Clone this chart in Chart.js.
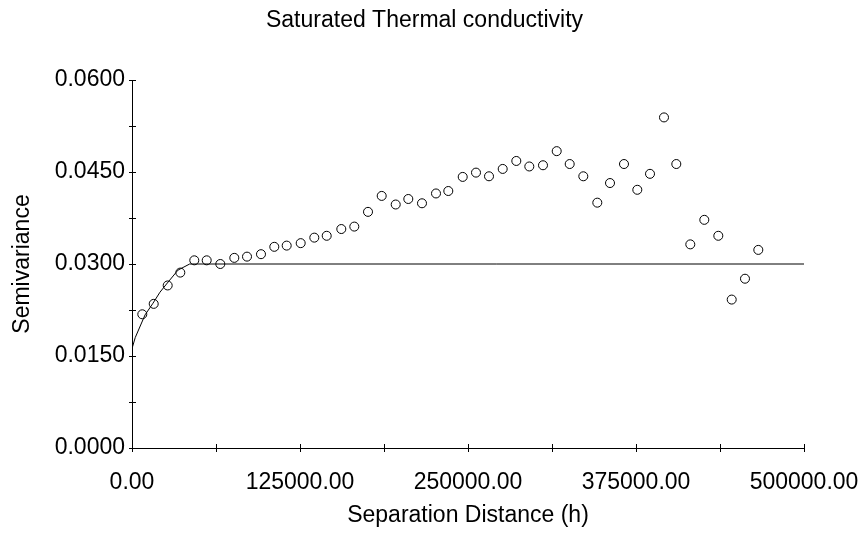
<!DOCTYPE html>
<html>
<head>
<meta charset="utf-8">
<script src="https://cdn.jsdelivr.net/npm/chart.js@4.4.0/dist/chart.umd.min.js"></script>
<style>
  html, body { margin: 0; padding: 0; background: #fff; }
  #wrap { width: 868px; height: 533px; }
</style>
</head>
<body>
<div id="wrap"><canvas id="myChart"></canvas></div>
<script>
// experimental semivariogram (lag distance vs semivariance)
const lagDistance = [7660, 16150, 26560, 35940, 46350, 55580, 65700, 76120, 85570, 95980,
  105880, 115100, 125520, 135640, 144870, 155730, 165400, 175600, 185790, 196210,
  205580, 215770, 226190, 235340, 246060, 255950, 265630, 275820, 285940, 295610,
  305800, 316000, 325670, 335790, 346210, 355660, 366070, 375970, 385420, 395830,
  404990, 415400, 425820, 436240, 446210, 456100, 466000];
const semivariance = [0.0218, 0.0235, 0.0265, 0.0286, 0.0306, 0.0306, 0.0300, 0.0310, 0.0312, 0.0316,
  0.0328, 0.0330, 0.0334, 0.0343, 0.0346, 0.0357, 0.0361, 0.0385, 0.0411, 0.0397,
  0.0406, 0.0399, 0.0415, 0.0419, 0.0442, 0.0449, 0.0443, 0.0455, 0.0468, 0.0459,
  0.0461, 0.0484, 0.0463, 0.0443, 0.0400, 0.0432, 0.0463, 0.0421, 0.0447, 0.0539,
  0.0463, 0.0332, 0.0372, 0.0346, 0.0242, 0.0276, 0.0323];

// fitted model
const modelDistance = [0, 2400, 9700, 15600, 20800, 26300, 34200, 42900, 500000];
const modelGamma = [0.0162, 0.0180, 0.0217, 0.0236, 0.0254, 0.0269, 0.0290, 0.0300, 0.0300];

const FONT = 'Liberation Sans, Arial, sans-serif';

const toXY = (xs, ys) => xs.map((x, i) => ({ x: x, y: ys[i] }));

// little ticks that cross the axis line
const crossTicks = {
  id: 'crossTicks',
  afterDraw(chart) {
    const ctx = chart.ctx;
    const xs = chart.scales.x, ys = chart.scales.y;
    const area = chart.chartArea;
    ctx.save();
    ctx.strokeStyle = '#000';
    ctx.lineWidth = 1;
    ctx.beginPath();
    xs.ticks.forEach((t, i) => {
      const px = Math.round(xs.getPixelForTick(i)) + 0.5;
      ctx.moveTo(px, area.bottom - 4);
      ctx.lineTo(px, area.bottom + 4);
    });
    ys.ticks.forEach((t, i) => {
      const py = Math.round(ys.getPixelForTick(i)) + 0.5;
      ctx.moveTo(area.left - 3, py);
      ctx.lineTo(area.left + 4, py);
    });
    ctx.stroke();
    ctx.restore();
  }
};

const config = {
  type: 'scatter',
  data: {
    datasets: [
      {
        label: 'Model',
        data: toXY(modelDistance, modelGamma),
        showLine: true,
        borderColor: '#000',
        borderWidth: 1,
        pointRadius: 0,
        tension: 0,
        fill: false,
      },
      {
        label: 'Semivariance',
        data: toXY(lagDistance, semivariance),
        showLine: false,
        pointStyle: 'circle',
        pointRadius: 4.5,
        pointBorderWidth: 1,
        pointBorderColor: '#000',
        pointBackgroundColor: 'rgba(0,0,0,0)',
      }
    ]
  },
  options: {
    responsive: true,
    maintainAspectRatio: false,
    animation: false,
    layout: { padding: { left: 45, right: 64, top: 0, bottom: 0 } },
    plugins: {
      legend: { display: false },
      tooltip: { enabled: false },
      title: {
        display: true,
        text: 'Saturated Thermal conductivity',
        color: '#000',
        font: { family: FONT, size: 23, weight: 'normal' },
        padding: { top: 7, bottom: 45.4 }
      }
    },
    scales: {
      x: {
        type: 'linear',
        min: 0,
        max: 500000,
        grid: { display: false, drawTicks: false },
        border: { display: true, color: '#000', width: 1 },
        ticks: {
          stepSize: 62500,
          autoSkip: false,
          maxRotation: 0,
          color: '#000',
          padding: 21,
          font: { family: FONT, size: 23 },
          callback: (v) => (Math.round(v / 62500) % 2 === 0 ? v.toFixed(2) : '')
        },
        title: {
          display: true,
          text: 'Separation Distance (h)',
          color: '#000',
          font: { family: FONT, size: 23 },
          padding: { top: 0, bottom: 4 }
        },
        afterFit: (s) => { s.height = 85; s.paddingRight = 0; s.paddingLeft = 0; }
      },
      y: {
        type: 'linear',
        min: 0,
        max: 0.06,
        grid: { display: false, drawTicks: false },
        border: { display: true, color: '#000', width: 1 },
        ticks: {
          stepSize: 0.0075,
          autoSkip: false,
          color: '#000',
          padding: 7,
          font: { family: FONT, size: 23 },
          callback: (v) => (Math.round(v / 0.0075) % 2 === 0 ? v.toFixed(4) : '')
        },
        title: {
          display: true,
          text: 'Semivariance',
          color: '#000',
          font: { family: FONT, size: 23 },
          padding: { top: -35.8, bottom: 0 }
        },
        afterFit: (s) => { s.width = 87; s.paddingTop = 0; s.paddingBottom = 0; }
      }
    }
  },
  plugins: [crossTicks]
};

const myChart = new Chart(document.getElementById('myChart'), config);
</script>
</body>
</html>
